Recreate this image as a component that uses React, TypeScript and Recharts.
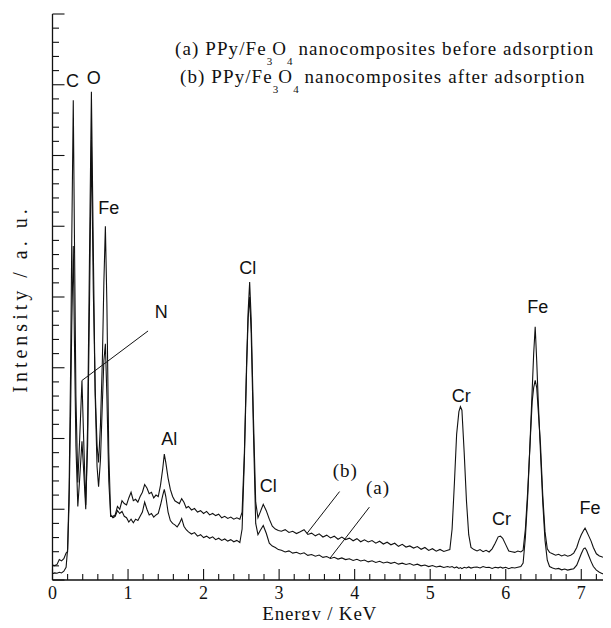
import { LineChart, Line, XAxis, YAxis, ReferenceLine, ReferenceDot } from "recharts";

// EDS channels (KeV) — denser sampling around the peaks
const energy = [
  0, 0.03, 0.06, 0.09, 0.12, 0.15, 0.18,
  0.2, 0.22, 0.24, 0.255, 0.275, 0.29, 0.31, 0.335, 0.36, 0.39, 0.415, 0.44, 0.465, 0.49, 0.515, 0.54, 0.565, 0.59, 0.61, 0.635, 0.66, 0.68, 0.7, 0.72, 0.745, 0.77, 0.8,
  0.83, 0.86, 0.89, 0.92, 0.95, 0.98, 1.01, 1.04, 1.07, 1.1, 1.13, 1.16, 1.19, 1.22, 1.25, 1.28, 1.31, 1.34, 1.37, 1.4, 1.43, 1.46, 1.48, 1.5, 1.53, 1.56, 1.59, 1.62, 1.65, 1.68, 1.71, 1.74, 1.77, 1.8, 1.84, 1.88, 1.92, 1.96, 2, 2.04, 2.08, 2.12, 2.16, 2.2, 2.24, 2.28, 2.32, 2.36, 2.4, 2.44, 2.48,
  2.51, 2.54, 2.57, 2.59, 2.61, 2.63, 2.66, 2.69, 2.72, 2.75, 2.79, 2.83, 2.87, 2.91, 2.95, 2.99,
  3.03, 3.08, 3.13, 3.18, 3.23, 3.28, 3.33, 3.38, 3.43, 3.48, 3.53, 3.58, 3.63, 3.68, 3.73, 3.78, 3.83, 3.88, 3.93, 3.98, 4.03, 4.08, 4.13, 4.18, 4.23, 4.28, 4.33, 4.38, 4.43, 4.48, 4.53, 4.58, 4.63, 4.68, 4.73, 4.78, 4.83, 4.88, 4.93, 4.98, 5.03, 5.08, 5.13, 5.18, 5.23,
  5.26, 5.29, 5.32, 5.35, 5.38, 5.4, 5.42, 5.45, 5.48, 5.51, 5.54, 5.58,
  5.62, 5.66, 5.7, 5.74, 5.78, 5.82, 5.86, 5.9, 5.93, 5.96, 6, 6.04, 6.08, 6.12, 6.16, 6.2,
  6.23, 6.26, 6.29, 6.32, 6.35, 6.37, 6.39, 6.41, 6.43, 6.46, 6.49, 6.52, 6.55, 6.58,
  6.62, 6.66, 6.7, 6.74, 6.78, 6.82, 6.86, 6.9, 6.94, 6.97, 7, 7.03, 7.05, 7.07, 7.1, 7.13, 7.16, 7.2, 7.24, 7.28, 7.32, 7.36, 7.4, 7.42,
];

// (a) PPy/Fe3O4 before adsorption
const beforeCounts = [
  0.45, 0.5, 0.48, 0.55, 0.5, 0.62, 0.9,
  2.2, 6.5, 15, 24, 33.9, 24.5, 13, 6.9, 10, 14.1, 9.5, 5.3, 9.5, 19.5, 31.1, 20.5, 13.5, 9.5, 8.3, 11, 15.5, 21, 25, 19.5, 9, 4.6, 4.4,
  4.5, 4.9, 4.7, 4.85, 4.5, 4.4, 4.1, 4.3, 4.05, 4.3, 4.2, 4.5, 4.8, 5.5, 5.0, 4.6, 4.7, 4.45, 4.6, 4.7, 5.3, 6.0, 6.4, 5.9, 4.8, 4.2, 4.0, 3.9, 3.75, 4.0, 4.35, 3.8, 3.55, 3.4, 3.25, 3.35, 3.1, 3.2, 3.0, 3.1, 2.95, 3.05, 2.85, 2.95, 2.8, 2.9, 2.75, 2.85, 2.7, 2.8, 2.65,
  3.6, 8.5, 15, 18.5, 20, 17.5, 10.5, 4.0, 3.2, 3.5, 3.85, 3.3, 2.6, 2.4, 2.3, 2.15,
  2.1, 1.98, 2.06, 1.9, 1.96, 1.84, 1.92, 1.74, 1.8, 1.68, 1.76, 1.6, 1.66, 1.52, 1.61, 1.48, 1.56, 1.44, 1.5, 1.38, 1.46, 1.34, 1.41, 1.28, 1.36, 1.24, 1.32, 1.2, 1.27, 1.18, 1.25, 1.12, 1.19, 1.1, 1.16, 1.04, 1.12, 1.0, 1.06, 0.95, 1.02, 0.92, 0.98, 0.88, 0.95,
  0.9, 0.95, 0.85, 0.92, 0.82, 0.88, 0.8, 0.9, 0.85, 0.92, 0.84, 0.9,
  0.92, 0.85, 0.95, 0.88, 0.9, 0.82, 0.9, 0.86, 0.92, 0.84, 0.9, 0.8, 0.88, 0.85, 0.9, 0.95,
  1.2, 3.0, 5.8, 9.5, 13.4, 16.0, 17.9, 15.5, 12.7, 9.0, 5.5, 2.8, 1.4, 0.95,
  0.85, 0.78, 0.82, 0.72, 0.78, 0.7, 0.75, 0.8, 1.05, 1.45, 1.85, 2.2, 2.26, 2.1, 1.7, 1.3, 0.95, 0.7, 0.55, 0.45, 0.4, 0.35, 0.3, 0.28,
];

// (b) PPy/Fe3O4 after adsorption
const afterCounts = [
  1.05, 1.02, 1.1, 1.45, 1.35, 1.5, 1.9,
  2.0, 5.5, 12, 18, 23.6, 17, 9.5, 5.2, 7.2, 9.8, 7.5, 5.0, 11, 23, 34.5, 23.5, 13, 8, 6.6, 8.5, 12.5, 15.5, 16.7, 13, 7, 4.5, 4.5,
  4.6, 5.2, 5.0, 5.6, 5.4, 5.3, 5.8, 6.2, 5.6, 5.7, 5.5, 5.9, 6.2, 6.75, 6.5, 6.1, 6.2, 5.8, 6.0, 5.9, 6.7, 7.9, 8.9, 8.3, 7.2, 6.4, 5.9, 5.6, 5.5, 5.4, 5.75, 5.5, 5.1, 5.2, 4.95, 5.05, 4.8, 4.9, 4.7, 4.85, 4.6, 4.7, 4.55, 4.65, 4.4, 4.5, 4.35, 4.45, 4.3, 4.4, 4.3,
  4.8, 9.0, 15.5, 19, 21.06, 18.5, 11.5, 5.5, 4.4, 4.8, 5.35, 4.9, 4.3, 3.8, 3.6, 3.5,
  3.45, 3.56, 3.36, 3.44, 3.28, 3.41, 3.55, 3.22, 3.31, 3.12, 3.26, 3.04, 3.17, 2.97, 3.1, 2.88, 3.03, 2.86, 2.96, 2.77, 2.92, 2.7, 2.84, 2.69, 2.79, 2.6, 2.74, 2.54, 2.67, 2.49, 2.6, 2.38, 2.52, 2.33, 2.41, 2.26, 2.36, 2.17, 2.3, 2.09, 2.21, 2.04, 2.16, 2.02, 2.1,
  2.15, 3.6, 6.8, 10.3, 11.9, 12.25, 12.0, 9.0, 5.6, 3.2, 2.3, 2.15,
  2.05, 2.15, 2.0, 2.1, 1.98, 2.2, 2.6, 3.05, 3.1, 2.95, 2.5, 2.05, 2.0, 1.95, 2.05, 1.98,
  2.1, 3.6, 6.2, 9.4, 12.6, 13.6, 14.1, 13.6, 12.0, 9.6, 6.0, 3.4, 2.2, 1.95,
  1.85, 1.75, 1.82, 1.7, 1.78, 1.68, 1.75, 1.9, 2.3, 2.8, 3.2, 3.5, 3.67, 3.45, 3.1, 2.75, 2.3, 1.85, 1.7, 1.62, 1.58, 1.52, 1.55, 1.5,
];

const keVTicks = [
  0, 0.2, 0.4, 0.6, 0.8, 1, 1.2, 1.4, 1.6, 1.8, 2, 2.2, 2.4, 2.6, 2.8, 3, 3.2, 3.4, 3.6, 3.8,
  4, 4.2, 4.4, 4.6, 4.8, 5, 5.2, 5.4, 5.6, 5.8, 6, 6.2, 6.4, 6.6, 6.8, 7, 7.2, 7.4,
];
const intensityTicks = [
  0, 1, 2, 3, 4, 5, 6, 7, 8, 9, 10, 11, 12, 13, 14, 15, 16, 17, 18, 19, 20,
  21, 22, 23, 24, 25, 26, 27, 28, 29, 30, 31, 32, 33, 34, 35, 36, 37, 38, 39, 40,
];
const rightTicks = [0, 5, 10, 15, 20, 25, 30, 35, 40];

// element labels, anchored at the text baseline centre
const peakLabels = [
  { text: "C", keV: 0.265, at: 34.85 },
  { text: "O", keV: 0.545, at: 35.05 },
  { text: "Fe", keV: 0.745, at: 25.9 },
  { text: "N", keV: 1.44, at: 18.5 },
  { text: "Al", keV: 1.545, at: 9.55 },
  { text: "Cl", keV: 2.585, at: 21.6 },
  { text: "Cl", keV: 2.855, at: 6.2 },
  { text: "Cr", keV: 5.41, at: 12.6 },
  { text: "Cr", keV: 5.945, at: 3.9 },
  { text: "Fe", keV: 6.425, at: 18.85 },
  { text: "Fe", keV: 7.115, at: 4.65 },
];
const curveTags = [
  { text: "(b)", keV: 3.875, at: 7.25 },
  { text: "(a)", keV: 4.31, at: 6.05 },
];
const pointers = [
  [{ x: 1.265, y: 17.6 }, { x: 0.39, y: 14.1 }],
  [{ x: 3.8, y: 6.25 }, { x: 3.37, y: 3.3 }],
  [{ x: 4.195, y: 5.15 }, { x: 3.675, y: 1.55 }],
];

const rows = energy.map((keV, i) => ({ keV, before: beforeCounts[i], after: afterCounts[i] }));

const SERIF = '"Liberation Serif", "Times New Roman", serif';
const SANS = '"Liberation Sans", Arial, sans-serif';
const INK = "#111";
const axisLine = { stroke: INK, strokeWidth: 1.3 };

const BottomTick = ({ x, y, payload }: any) => {
  const major = Number.isInteger(payload.value);
  return (
    <g>
      <line x1={x} x2={x} y1={y} y2={y - (major ? 11 : 6)} stroke={INK} strokeWidth={1.1} />
      {major && (
        <text x={x} y={y + 19} textAnchor="middle" fontFamily={SERIF} fontSize={18} fill={INK}>
          {payload.value}
        </text>
      )}
    </g>
  );
};

const TopTick = ({ x, y, payload }: any) => {
  const major = Number.isInteger(payload.value);
  return <line x1={x} x2={x} y1={y} y2={y + (major ? 11 : 6)} stroke={INK} strokeWidth={1.1} />;
};

const LeftTick = ({ x, y, payload }: any) => {
  const major = payload.value % 5 === 0;
  return <line x1={x} x2={x + (major ? 12 : 6.5)} y1={y} y2={y} stroke={INK} strokeWidth={1.1} />;
};

const RightTick = ({ x, y }: any) => (
  <line x1={x} x2={x - 8} y1={y} y2={y} stroke={INK} strokeWidth={1.1} />
);

const EnergyTitle = ({ viewBox }: any) => {
  if (!viewBox) return null;
  return (
    <text
      x={viewBox.x + viewBox.width / 2 - 13}
      y={viewBox.y + 40}
      textAnchor="middle"
      fontFamily={SERIF}
      fontSize={19}
      letterSpacing={0.8}
      fill={INK}
    >
      Energy / KeV
    </text>
  );
};

const IntensityTitle = ({ viewBox }: any) => {
  if (!viewBox) return null;
  const cx = viewBox.x + 27;
  const cy = viewBox.y + viewBox.height / 2 + 2;
  return (
    <text
      x={cx}
      y={cy}
      transform={`rotate(-90, ${cx}, ${cy})`}
      textAnchor="middle"
      fontFamily={SERIF}
      fontSize={20}
      letterSpacing={4}
      fill={INK}
    >
      Intensity / a. u.
    </text>
  );
};

const labelShape = (text: string, font: string, spacing = 0) => (p: any) => (
  <text x={p.cx} y={p.cy} textAnchor="middle" fontFamily={font} fontSize={font === SERIF ? 19 : 18} letterSpacing={spacing} fill={INK}>
    {text}
  </text>
);

const sub = { fontSize: 11, letterSpacing: 0, position: "relative" as const, top: 10 };

function SampleKey() {
  const line = {
    position: "absolute" as const,
    fontFamily: SERIF,
    fontSize: 19,
    letterSpacing: "1.1px",
    lineHeight: "19px",
    color: INK,
    whiteSpace: "nowrap" as const,
  };
  return (
    <>
      <div style={{ ...line, left: 175, top: 39 }}>
        (a) PPy/Fe<span style={sub}>3</span>O<span style={sub}>4</span> nanocomposites before adsorption
      </div>
      <div style={{ ...line, left: 180, top: 67 }}>
        (b) PPy/Fe<span style={sub}>3</span>O<span style={sub}>4</span> nanocomposites after adsorption
      </div>
    </>
  );
}

export default function App() {
  return (
    <div style={{ position: "relative", margin: -8, width: 611, height: 628, overflow: "hidden", background: "#fff" }}>
      <LineChart width={614} height={628} data={rows} margin={{ top: 14, right: 0, bottom: 0, left: 0 }}>
        <XAxis
          xAxisId="x"
          dataKey="keV"
          type="number"
          domain={[0, 7.42]}
          allowDataOverflow
          ticks={keVTicks}
          interval={0}
          height={48}
          tickSize={0}
          tickMargin={0}
          tickLine={false}
          axisLine={axisLine}
          tick={BottomTick}
          label={{ content: EnergyTitle }}
        />
        <XAxis
          xAxisId="top"
          orientation="top"
          type="number"
          domain={[0, 7.42]}
          allowDataOverflow
          ticks={keVTicks}
          interval={0}
          height={0}
          tickSize={0}
          tickMargin={0}
          tickLine={false}
          axisLine={axisLine}
          tick={TopTick}
        />
        <YAxis
          yAxisId="y"
          type="number"
          domain={[0, 40]}
          allowDataOverflow
          ticks={intensityTicks}
          interval={0}
          width={52.5}
          tickSize={0}
          tickMargin={0}
          tickLine={false}
          axisLine={axisLine}
          tick={LeftTick}
          label={{ content: IntensityTitle }}
        />
        <YAxis
          yAxisId="right"
          orientation="right"
          type="number"
          domain={[0, 40]}
          allowDataOverflow
          ticks={rightTicks}
          interval={0}
          width={1}
          tickSize={0}
          tickMargin={0}
          tickLine={false}
          axisLine={axisLine}
          tick={RightTick}
        />
        <Line xAxisId="x" yAxisId="y" type="linear" dataKey="before" stroke={INK} strokeWidth={1.1} dot={false} isAnimationActive={false} />
        <Line xAxisId="x" yAxisId="y" type="linear" dataKey="after" stroke={INK} strokeWidth={1.1} dot={false} isAnimationActive={false} />
        {pointers.map((seg, i) => (
          <ReferenceLine key={`p${i}`} xAxisId="x" yAxisId="y" segment={seg} stroke={INK} strokeWidth={1} />
        ))}
        {peakLabels.map((l, i) => (
          <ReferenceDot key={`l${i}`} xAxisId="x" yAxisId="y" x={l.keV} y={l.at} r={0} shape={labelShape(l.text, SANS)} />
        ))}
        {curveTags.map((l, i) => (
          <ReferenceDot key={`t${i}`} xAxisId="x" yAxisId="y" x={l.keV} y={l.at} r={0} shape={labelShape(l.text, SERIF, 1)} />
        ))}
      </LineChart>
      <SampleKey />
    </div>
  );
}
